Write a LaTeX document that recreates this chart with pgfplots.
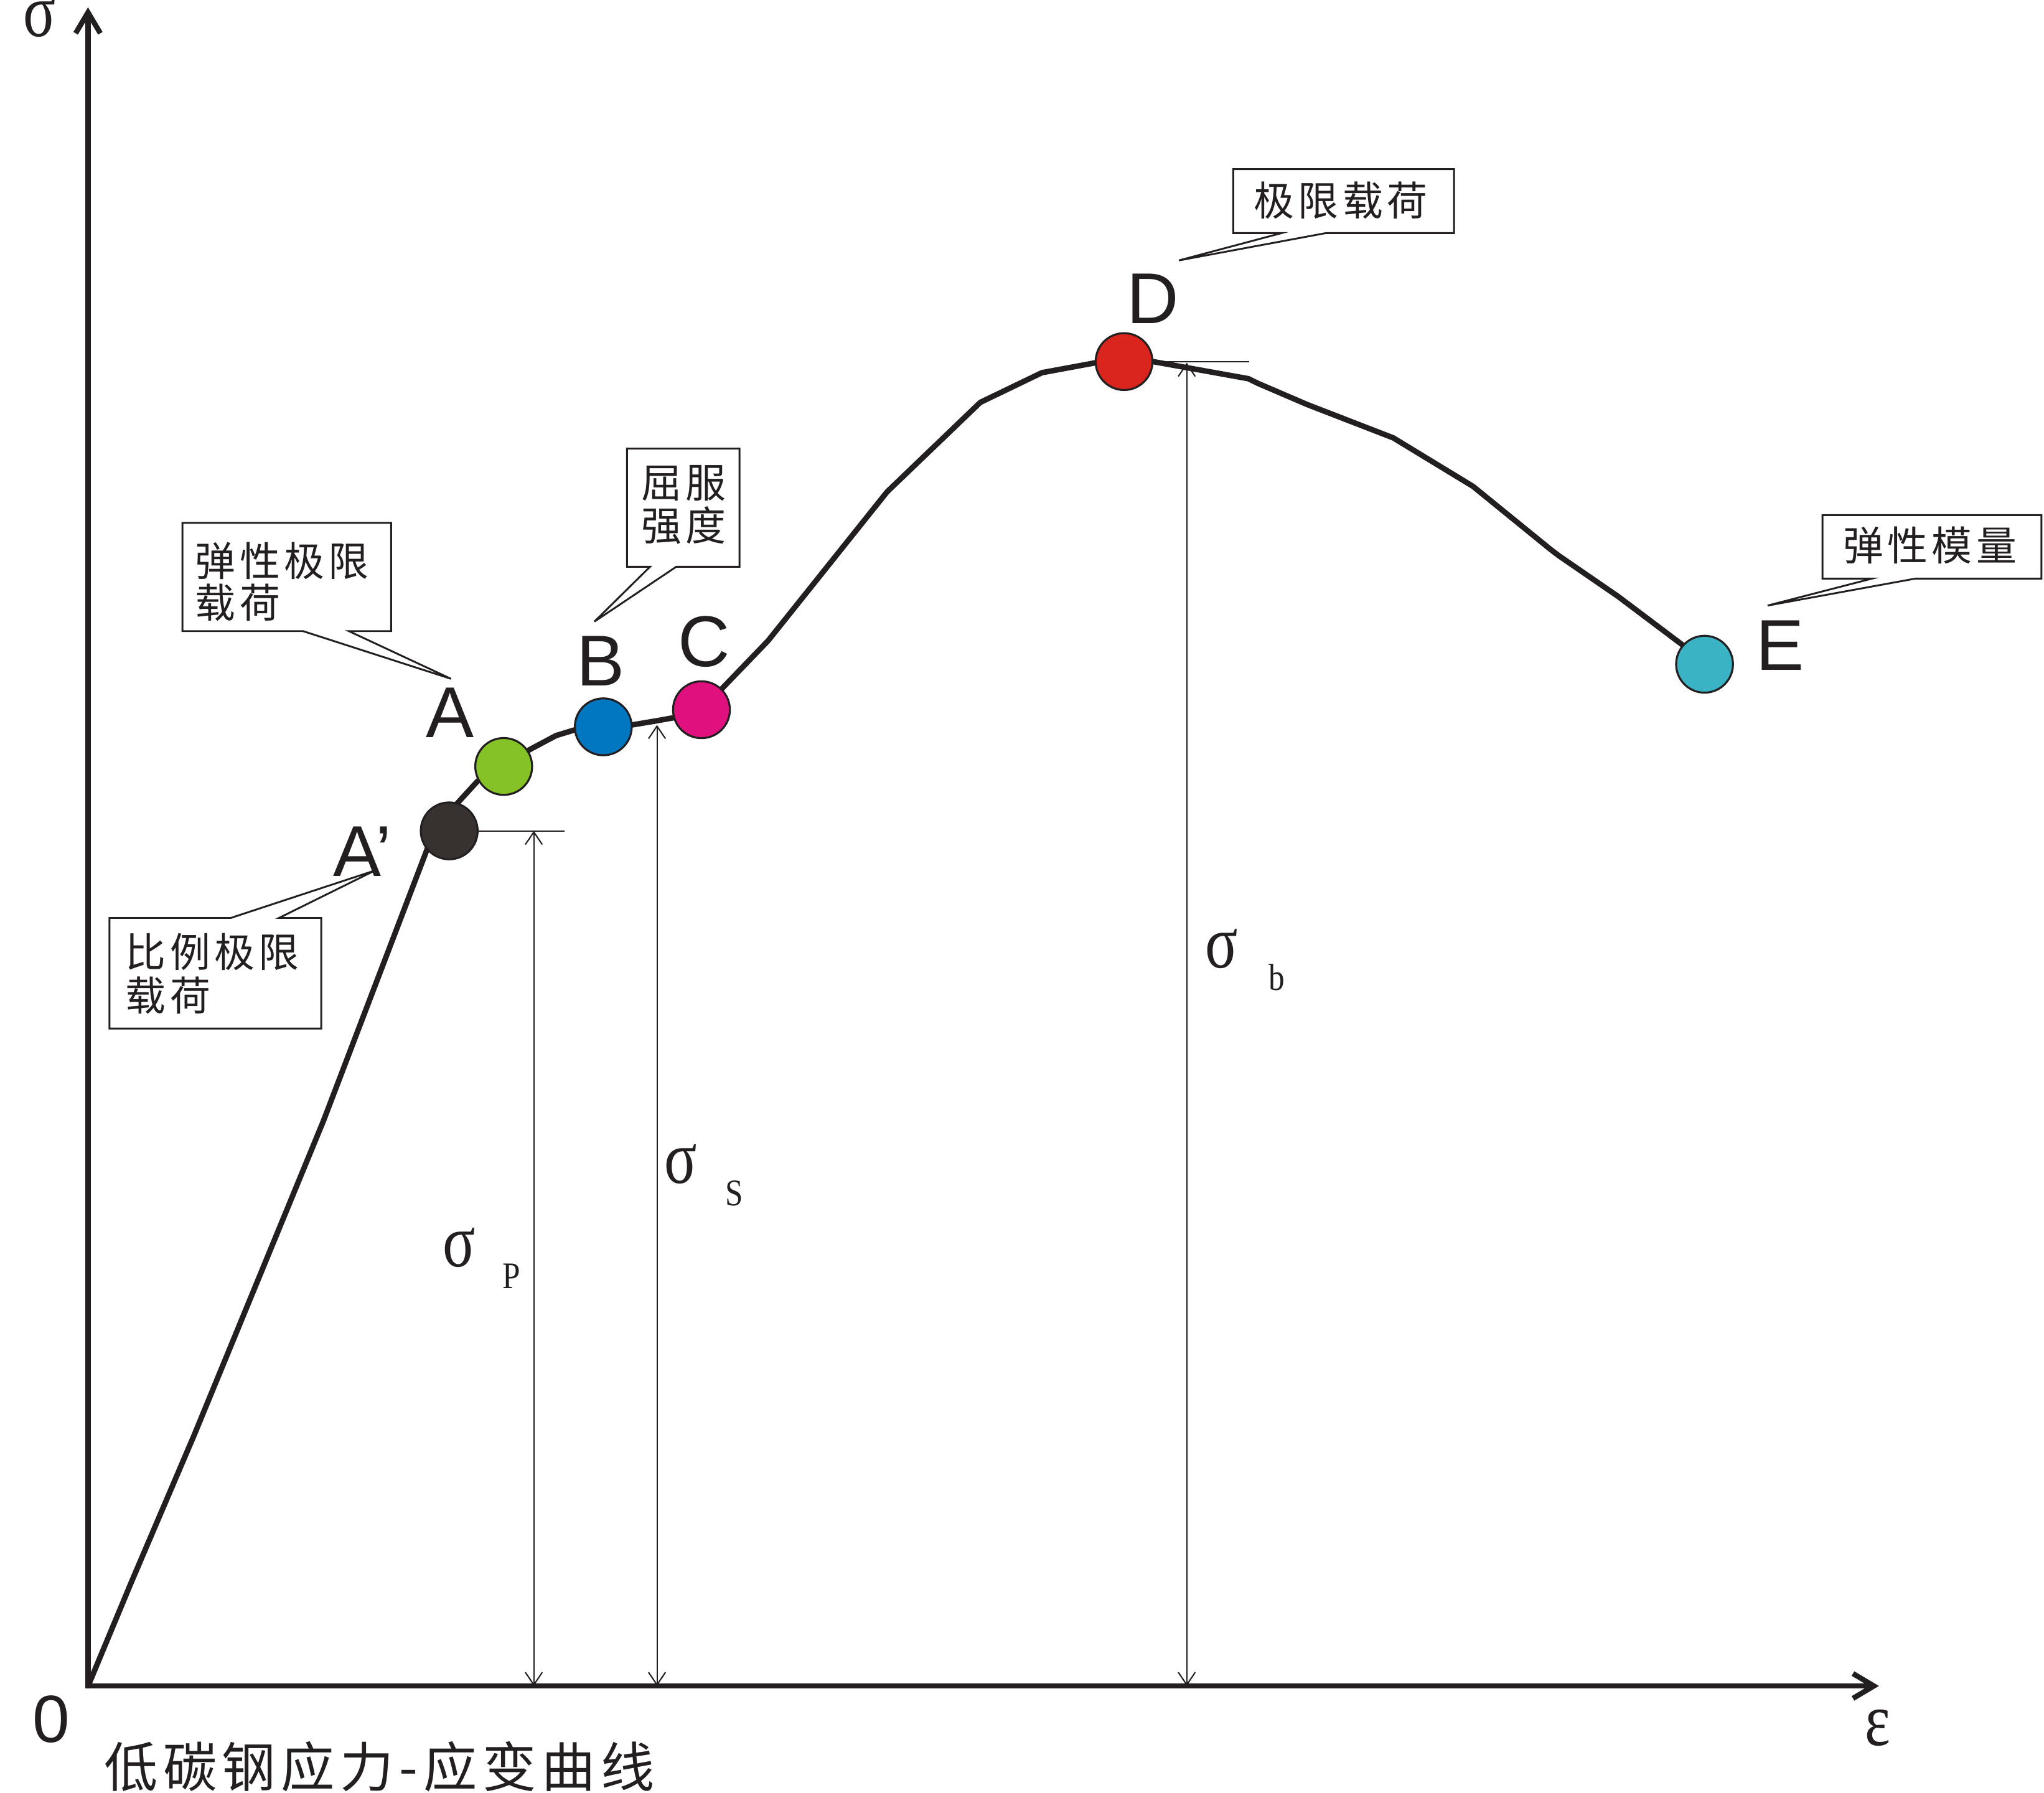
\documentclass[border=0pt]{standalone}
\usepackage{fontspec}
\setmainfont{Liberation Sans}
\newfontfamily\cjk{Noto Sans CJK SC}[LetterSpace=10]
\newfontfamily\grk{Liberation Serif}
\usepackage{graphicx}
\usepackage{pgfplots}
\pgfplotsset{compat=1.18}
\usetikzlibrary{arrows.meta}
\definecolor{ink}{RGB}{35,31,32}
\definecolor{cAp}{RGB}{55,50,48}
\definecolor{cA}{RGB}{133,194,38}
\definecolor{cB}{RGB}{0,119,192}
\definecolor{cC}{RGB}{224,17,127}
\definecolor{cD}{RGB}{217,37,29}
\definecolor{cE}{RGB}{58,179,196}
\newcommand\cjks{\cjk\fontsize{7.75}{8}\selectfont}
\newcommand\cjkb{\cjk\fontsize{10.3}{11}\selectfont}
\newcommand\lat{\fontsize{13.8}{14}\selectfont}
\newcommand\gr[1]{{\grk\fontsize{14.5}{15}\selectfont\scalebox{0.8}[1]{#1}}}
\newcommand\sub[1]{{\grk\fontsize{7.2}{8}\selectfont\scalebox{0.85}[1]{#1}}}
\begin{document}
\begin{tikzpicture}
\begin{axis}[
  scale only axis, width=392pt, height=343.75pt,
  xmin=0, xmax=1568, ymin=0, ymax=1375, y dir=reverse,
  hide axis, clip=false,
]
% coordinate axes
\addplot[line width=1.0pt, color=ink, line join=miter,
  {Straight Barb[length=4pt,width=4.75pt]}-{Straight Barb[length=4pt,width=4.75pt]}]
  coordinates {(67.5,5.6) (67.5,1293) (1441.4,1293)};
% stress-strain curve
\addplot[line width=1.05pt, color=ink, line join=round, line cap=round] coordinates {
(67.6,1293.0) (100.5,1214) (149.2,1100) (248.2,859.4) (327.8,650.9) (345,630)
(349.6,617.4) (366.3,599.1) (386.4,587.8) (406.5,574.8) (426.6,564.1) (441.7,559.5)
(462.8,557.4) (485.2,555.9) (503.6,552.8) (517,550.4) (538.1,544.3) (552.6,529.4)
(589.2,491.4) (680.5,377.2) (752,308.6) (799.3,285.8) (840.4,278.2) (862.3,277.3)
(884.5,277.3) (957.6,290.4) (965,294) (1002.7,310.2) (1068.8,335.8) (1130,373)
(1189.4,421.3) (1196,426.3) (1241.4,457.5) (1289.9,494) (1307.6,509.4)};
% thin dimension arrows
\addplot[line width=0.25pt, color=ink, {Straight Barb[length=2.4pt,width=3.25pt]}-{Straight Barb[length=2.4pt,width=3.25pt]}]
  coordinates {(409.5,637.2) (409.5,1293)};
\addplot[line width=0.25pt, color=ink, {Straight Barb[length=2.4pt,width=3.25pt]}-{Straight Barb[length=2.4pt,width=3.25pt]}]
  coordinates {(504,556) (504,1293)};
\addplot[line width=0.25pt, color=ink, {Straight Barb[length=2.4pt,width=3.25pt]}-{Straight Barb[length=2.4pt,width=3.25pt]}]
  coordinates {(910.4,278.2) (910.4,1293)};
% points
\addplot[only marks, mark=*, mark size=5.45pt, mark options={fill=cAp, draw=ink, line width=0.38pt}] coordinates {(344.6,637.2)};
\addplot[only marks, mark=*, mark size=5.45pt, mark options={fill=cA, draw=ink, line width=0.38pt}] coordinates {(386.4,587.8)};
\addplot[only marks, mark=*, mark size=5.45pt, mark options={fill=cB, draw=ink, line width=0.38pt}] coordinates {(462.8,557.4)};
\addplot[only marks, mark=*, mark size=5.45pt, mark options={fill=cC, draw=ink, line width=0.38pt}] coordinates {(538.1,544.3)};
\addplot[only marks, mark=*, mark size=5.45pt, mark options={fill=cD, draw=ink, line width=0.38pt}] coordinates {(862.3,277.3)};
\addplot[only marks, mark=*, mark size=5.45pt, mark options={fill=cE, draw=ink, line width=0.38pt}] coordinates {(1307.6,509.4)};
% level lines
\addplot[line width=0.25pt, color=ink] coordinates {(344.6,637.2) (433.3,637.2)};
\addplot[line width=0.25pt, color=ink] coordinates {(862.3,277.3) (958.2,277.3)};
% callouts
\addplot[line width=0.35pt, color=ink, fill=white] coordinates {
(140,401) (300,401) (300,484) (267.6,484) (346,520.6) (232.4,484) (140,484)} -- cycle;
\addplot[line width=0.35pt, color=ink, fill=white] coordinates {
(481,344) (567.3,344) (567.3,434.7) (518.7,434.7) (456,476.7) (498.6,434.7) (481,434.7)} -- cycle;
\addplot[line width=0.35pt, color=ink, fill=white] coordinates {
(84,704) (177,704) (287.6,667.6) (214,704) (246.4,704) (246.4,788.8) (84,788.8)} -- cycle;
\addplot[line width=0.35pt, color=ink, fill=white] coordinates {
(946,129.7) (1115.4,129.7) (1115.4,178.7) (1017.4,178.7) (904.4,199.7) (983.3,178.7) (946,178.7)} -- cycle;
\addplot[line width=0.35pt, color=ink, fill=white] coordinates {
(1398.1,395) (1566,395) (1566,443.7) (1469.5,443.7) (1356,464.4) (1436.2,443.7) (1398.1,443.7)} -- cycle;
% callout texts
\node[anchor=west, inner sep=0, text=ink] at (axis cs:149,430) {\cjks 弹性极限};
\node[anchor=west, inner sep=0, text=ink] at (axis cs:149,462) {\cjks 载荷};
\node[anchor=west, inner sep=0, text=ink] at (axis cs:491,370.7) {\cjks 屈服};
\node[anchor=west, inner sep=0, text=ink] at (axis cs:491,402.7) {\cjks 强度};
\node[anchor=west, inner sep=0, text=ink] at (axis cs:95.5,730) {\cjks 比例极限};
\node[anchor=west, inner sep=0, text=ink] at (axis cs:95.5,763.5) {\cjks 载荷};
\node[anchor=west, inner sep=0, text=ink] at (axis cs:961,153.6) {\cjks 极限载荷};
\node[anchor=west, inner sep=0, text=ink] at (axis cs:1413,418) {\cjks 弹性模量};
% caption
\node[anchor=west, inner sep=0, text=ink] at (axis cs:79,1355) {\cjkb 低碳钢应力-应变曲线};
% point letters
\node[inner sep=0, text=ink] at (axis cs:278,653) {\lat A’};
\node[inner sep=0, text=ink] at (axis cs:345,546.5) {\lat A};
\node[inner sep=0, text=ink] at (axis cs:461,507) {\lat B};
\node[inner sep=0, text=ink] at (axis cs:540,492) {\lat C};
\node[inner sep=0, text=ink] at (axis cs:884.5,229) {\lat D};
\node[inner sep=0, text=ink] at (axis cs:1365.7,495) {\lat E};
\node[inner sep=0, text=ink] at (axis cs:39.3,1318.6) {\fontsize{12.8}{13}\selectfont 0};
% greek labels
\node[inner sep=0, text=ink] at (axis cs:30.3,13.5) {\gr{σ}};
\node[inner sep=0, text=ink] at (axis cs:1440.7,1325) {\gr{ε}};
\node[inner sep=0, text=ink] at (axis cs:352,956.6) {\gr{σ}};
\node[inner sep=0, text=ink] at (axis cs:392.5,978.8) {\sub{P}};
\node[inner sep=0, text=ink] at (axis cs:522,892.7) {\gr{σ}};
\node[inner sep=0, text=ink] at (axis cs:563.4,915) {\sub{S}};
\node[inner sep=0, text=ink] at (axis cs:937.2,727.5) {\gr{σ}};
\node[inner sep=0, text=ink] at (axis cs:979.5,749.5) {\sub{b}};
\end{axis}
\pgfresetboundingbox
\path[use as bounding box] (current axis.south west) rectangle (current axis.north east);
\end{tikzpicture}
\end{document}
